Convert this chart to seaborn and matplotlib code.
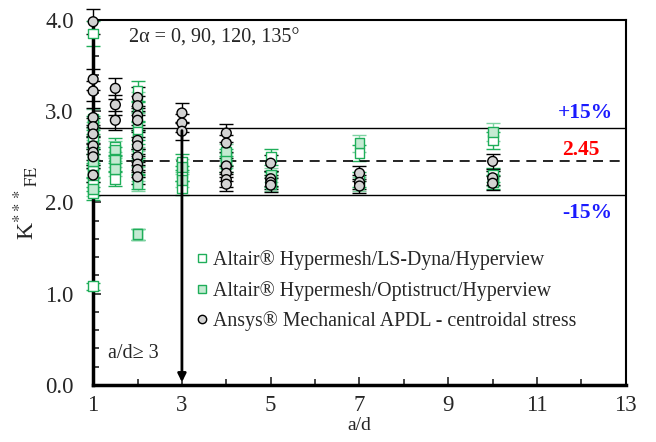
import numpy as np
import pandas as pd
import matplotlib
matplotlib.use("Agg")
import matplotlib.pyplot as plt
import seaborn as sns
from matplotlib.lines import Line2D

sns.set_style("ticks", {"xtick.direction": "in", "ytick.direction": "in"})
plt.rcParams['font.family'] = ['Liberation Serif', 'DejaVu Serif']
plt.rcParams['mathtext.fontset'] = 'stix'

# Altair Hypermesh / LS-Dyna (open squares)
lsdyna_x = [1, 1, 1, 1, 1, 1, 1, 1,
            1.5, 1.5, 1.5, 1.5,
            2, 2, 2, 2, 2, 2, 2,
            3, 3, 3, 4, 4, 5, 5, 7, 7, 10, 10, 10]
lsdyna_y = [3.85, 2.85, 2.70, 2.50, 2.35, 2.20, 2.10, 1.08,
            2.61, 2.52, 2.42, 2.26,
            3.22, 3.00, 2.78, 2.55, 2.40, 2.22, 1.65,
            2.44, 2.32, 2.16, 2.50, 2.42, 2.50, 2.25, 2.54, 2.25, 2.68, 2.30, 2.22]

# Altair Hypermesh / Optistruct (filled squares)
opti_x = [1, 1, 1, 1, 1, 1,
          1.5, 1.5, 1.5,
          2, 2, 2, 2, 2, 2, 2,
          3, 3, 4, 4, 5, 5, 7, 7, 10, 10]
opti_y = [2.92, 2.78, 2.62, 2.45, 2.30, 2.15,
          2.58, 2.47, 2.37,
          3.10, 2.88, 2.70, 2.48, 2.32, 2.20, 1.65,
          2.39, 2.25, 2.55, 2.46, 2.30, 2.20, 2.65, 2.20, 2.77, 2.26]

# Ansys Mechanical APDL (circles)
ansys_x = [1, 1, 1, 1, 1, 1, 1, 1, 1, 1,
           1.5, 1.5, 1.5,
           2, 2, 2, 2, 2, 2, 2, 2, 2, 2,
           3, 3, 3, 4, 4, 4, 4, 4, 4,
           5, 5, 5, 5, 7, 7, 7, 10, 10, 10]
ansys_y = [3.98, 3.35, 3.22, 2.93, 2.83, 2.75, 2.62, 2.55, 2.50, 2.30,
           3.25, 3.07, 2.90,
           3.15, 3.06, 2.95, 2.90, 2.68, 2.62, 2.50, 2.42, 2.36, 2.28,
           2.98, 2.87, 2.78, 2.76, 2.65, 2.40, 2.32, 2.25, 2.20,
           2.43, 2.26, 2.22, 2.19, 2.32, 2.22, 2.18, 2.45, 2.27, 2.21]

k_mean = 2.45
rel_err = 0.035

labels = ["Altair® Hypermesh/LS-Dyna/Hyperview",
          "Altair® Hypermesh/Optistruct/Hyperview",
          "Ansys® Mechanical APDL - centroidal stress"]

df = pd.concat([
    pd.DataFrame({"ad": lsdyna_x, "K": lsdyna_y, "src": labels[0]}),
    pd.DataFrame({"ad": opti_x, "K": opti_y, "src": labels[1]}),
    pd.DataFrame({"ad": ansys_x, "K": ansys_y, "src": labels[2]}),
], ignore_index=True)

green = "#1fae5a"
light_green = "#c4ead2"

fig = plt.figure(figsize=(6.56, 4.42), dpi=100)
ax = fig.add_axes([0.142, 0.129, 0.812, 0.826])

# error bars
for lab, ecol, ls in [(labels[0], green, "-"), (labels[1], "#7ed3a2", "--"), (labels[2], "black", "-")]:
    d = df[df.src == lab]
    eb = ax.errorbar(d.ad, d.K, yerr=d.K * rel_err, fmt="none", ecolor=ecol,
                     elinewidth=1, capsize=5, capthick=1, clip_on=False, zorder=2)
    eb[2][0].set_linestyle(ls)

sns.scatterplot(data=df, x="ad", y="K", hue="src", style="src",
                hue_order=labels, style_order=labels,
                palette={labels[0]: "white", labels[1]: light_green, labels[2]: "#d3d3d3"},
                markers={labels[0]: "s", labels[1]: "s", labels[2]: "o"},
                s=50, linewidth=1, ax=ax, clip_on=False, zorder=3, legend=False)
colls = ax.collections[-1]
edge = [green if s != labels[2] else "black" for s in df.src]
colls.set_edgecolor(edge)

# reference lines
ax.axhline(k_mean * 1.15, color="black", lw=1)
ax.axhline(k_mean, color="black", lw=1.2, ls=(0, (6, 4)))
ax.axhline(k_mean * 0.85, color="black", lw=1)

ax.annotate("", xy=(3, 0), xytext=(3, k_mean * 1.15),
            arrowprops=dict(arrowstyle="-|>", color="black", lw=2, mutation_scale=12),
            zorder=4)

ax.text(1.33, 0.3, "a/d≥ 3", fontsize=14.5)
ax.text(1.8, 3.75, "2α = 0, 90, 120, 135°", fontsize=14.5)
ax.text(12.7, 2.92, "+15%", color="#1a1aff", fontsize=15.5, fontweight="bold", ha="right")
ax.text(12.4, 2.52, "2.45", color="red", fontsize=15.5, fontweight="bold", ha="right")
ax.text(12.7, 1.83, "-15%", color="#1a1aff", fontsize=15.5, fontweight="bold", ha="right")

# legend
handles = [
    Line2D([], [], ls="none", marker="s", mfc="white", mec=green, ms=6),
    Line2D([], [], ls="none", marker="s", mfc=light_green, mec=green, ms=6),
    Line2D([], [], ls="none", marker="o", mfc="#d3d3d3", mec="black", ms=6),
]
ax.legend(handles, labels, loc="lower left", bbox_to_anchor=(0.17, 0.125),
          frameon=False, fontsize=14.3, handletextpad=0.1, handlelength=1,
          labelspacing=0.55, borderaxespad=0)

ax.set_xlim(1, 13)
ax.set_ylim(0, 4)
ax.set_xticks(np.arange(1, 14, 2))
ax.set_xticks(np.arange(1, 14, 1), minor=True)
ax.set_yticks(np.arange(0, 4.1, 1))
ax.set_yticks(np.arange(0, 4.01, 0.2), minor=True)
ax.yaxis.set_major_formatter(matplotlib.ticker.FormatStrFormatter("%.1f"))
ax.tick_params(which="both", direction="in", labelsize=16.5, width=1.2)
ax.tick_params(which="major", length=6)
ax.tick_params(which="minor", length=4)
ax.tick_params(axis="x", pad=7)
ax.tick_params(axis="y", pad=14)
for sp in ax.spines.values():
    sp.set_linewidth(1.5)
    sp.set_color("black")
ax.spines["left"].set_linewidth(2.5)
ax.spines["bottom"].set_linewidth(2.5)

ax.set_xlabel("a/d", fontsize=14, labelpad=1)
ax.set_ylabel(r"K$^{***}$$_{\mathrm{FE}}$", fontsize=17, labelpad=4)

fig.savefig("out.png", dpi=100)
